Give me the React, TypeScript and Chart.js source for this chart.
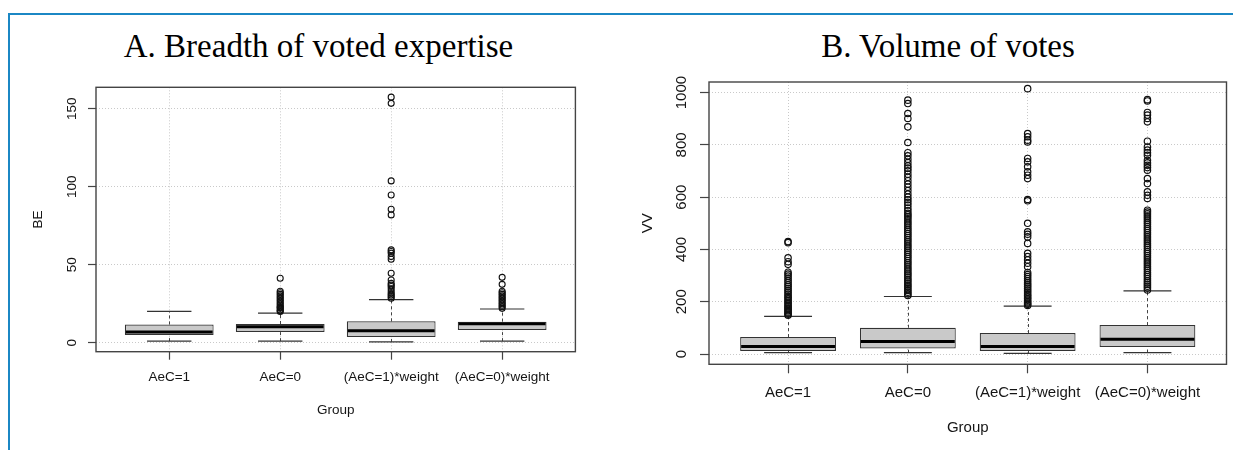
import React, { useEffect, useRef } from 'react';
import { Chart, registerables } from 'chart.js';

Chart.register(...registerables);

// ---------- data ----------
const GROUPS = ['AeC=1', 'AeC=0', '(AeC=1)*weight', '(AeC=0)*weight'];

const BE_TICKS = [0, 50, 100, 150];
const BE_LOW = [1, 1, 0.5, 1];
const BE_Q1 = [4.9, 6.9, 3.6, 8.1];
const BE_MEDIAN = [6.8, 10.2, 7.7, 12.2];
const BE_Q3 = [11.7, 12.0, 13.7, 13.5];
const BE_HIGH = [20.1, 19.0, 27.6, 21.6];
const BE_OUT_G1: number[] = [];
const BE_OUT_G2 = [20, 20.5, 21, 22, 22.5, 23, 24, 25, 26, 27, 28, 29, 30, 31, 32, 33, 41.3];
const BE_OUT_G3 = [28.5, 29.5, 30.5, 31.5, 33, 34.5, 36, 37, 38, 40.2, 44.5, 53.5, 55.2, 57.3, 58.5, 59.5, 81.9, 85.5, 94.7, 103.7, 153.4, 157.4];
const BE_OUT_G4 = [22, 23, 24, 25, 26, 27, 28, 29, 30, 31, 32, 33, 37.4, 41.9];

const VV_TICKS = [0, 200, 400, 600, 800, 1000];
const VV_LOW = [5, 5, 2.4, 5];
const VV_Q1 = [11.5, 21.5, 11.3, 26.6];
const VV_MEDIAN = [29, 48.2, 29, 56.1];
const VV_Q3 = [64.8, 100.5, 80.2, 110.6];
const VV_HIGH = [143.7, 220, 183, 241.6];
const VV_OUT_G1 = [148, 152, 157, 161, 166, 171, 176, 181, 186, 192, 198, 204, 210, 216, 222, 229, 236, 243, 250, 258, 265, 273, 281, 290, 298, 306, 313, 343, 353, 368, 426, 430];
const VV_OUT_G2 = [224, 230, 236, 243, 250, 257, 264, 271, 279, 286, 294, 302, 309, 317, 325, 333, 341, 349, 357, 365, 373, 381, 389, 397, 405, 413, 421, 429, 437, 445, 453, 461, 469, 477, 485, 493, 501, 509, 517, 525, 532, 538, 548, 558, 570, 580, 590, 600, 612, 625, 638, 650, 663, 676, 688, 701, 711, 720, 732, 745, 758, 770, 809, 869, 901, 920, 958, 971];
const VV_OUT_G3 = [186, 190, 195, 200, 206, 212, 218, 224, 230, 237, 244, 251, 258, 265, 272, 280, 288, 296, 304, 312, 334, 347, 360, 373, 385, 423, 448, 458, 467, 500, 586, 591, 671, 684, 697, 716, 735, 748, 811, 818, 831, 843, 1015];
const VV_OUT_G4 = [245, 252, 259, 266, 273, 280, 288, 296, 304, 312, 320, 328, 336, 344, 352, 360, 368, 376, 384, 392, 400, 408, 416, 424, 432, 440, 448, 456, 464, 472, 480, 488, 496, 504, 512, 520, 528, 536, 543, 550, 595, 607, 620, 652, 671, 703, 713, 722, 731, 741, 760, 770, 780, 792, 814, 888, 901, 914, 924, 968, 973];

// ---------- styling ----------
const SANS = '"Liberation Sans", Arial, Helvetica, sans-serif';
const SERIF = '"Liberation Serif", "Times New Roman", serif';
const TEXT = '#151515';
const GRID = '#c9c9c9';
const FRAME = '#444444';
const BOX_FILL = '#c9c9c9';
const BOX_LINE = '#333333';
const CANVAS_H = 450;

type Stats = { low: number[]; q1: number[]; median: number[]; q3: number[]; high: number[]; out: number[][] };
type Spec = {
  stats: Stats; ticks: number[]; yLabel: string;
  canvasWidth: number; plotLeft: number; plotRight: number; plotTop: number; plotBottom: number;
  yMin: number; yMax: number; fontSize: number; tickLen: number;
  yTickPad: number; xTickPad: number; yTitlePad: number; xTitlePad: number; pointRadius: number; pointBorder: number;
};

function makePlugin(stats: Stats) {
  return {
    id: 'rBoxParts',
    beforeDatasetsDraw(chart: any) {
      const { ctx } = chart;
      const xs = chart.scales.x;
      const ys = chart.scales.y;
      ctx.save();
      for (let i = 0; i < stats.q1.length; i++) {
        const xc = Math.round(xs.getPixelForValue(i + 1)) + 0.5;
        const x0 = xs.getPixelForValue(i + 1 - 0.2);
        const x1 = xs.getPixelForValue(i + 1 + 0.2);
        ctx.strokeStyle = '#444';
        ctx.lineWidth = 1;
        ctx.setLineDash([3, 3]);
        ctx.beginPath();
        ctx.moveTo(xc, ys.getPixelForValue(stats.low[i]));
        ctx.lineTo(xc, ys.getPixelForValue(stats.q1[i]));
        ctx.moveTo(xc, ys.getPixelForValue(stats.q3[i]));
        ctx.lineTo(xc, ys.getPixelForValue(stats.high[i]));
        ctx.stroke();
        ctx.setLineDash([]);
        ctx.strokeStyle = '#333';
        ctx.lineWidth = 1.2;
        ctx.beginPath();
        for (const v of [stats.low[i], stats.high[i]]) {
          const py = ys.getPixelForValue(v);
          ctx.moveTo(x0, py);
          ctx.lineTo(x1, py);
        }
        ctx.stroke();
      }
      ctx.restore();
    },
    afterDatasetDraw(chart: any, args: any) {
      if (args.index !== 1) return;
      const { ctx } = chart;
      const ys = chart.scales.y;
      const meta = chart.getDatasetMeta(1);
      ctx.save();
      ctx.strokeStyle = '#000';
      ctx.lineWidth = 3;
      ctx.beginPath();
      meta.data.forEach((bar: any, i: number) => {
        const py = ys.getPixelForValue(stats.median[i]);
        ctx.moveTo(bar.x - bar.width / 2 + 1, py);
        ctx.lineTo(bar.x + bar.width / 2 - 1, py);
      });
      ctx.stroke();
      ctx.restore();
    },
    afterDraw(chart: any) {
      const { ctx, chartArea: a } = chart;
      ctx.save();
      ctx.strokeStyle = FRAME;
      ctx.lineWidth = 1.4;
      ctx.strokeRect(a.left, a.top, a.right - a.left, a.bottom - a.top);
      ctx.restore();
    },
  };
}

function buildChart(canvas: HTMLCanvasElement, spec: Spec) {
  const { stats } = spec;
  const font = { family: SANS, size: spec.fontSize };
  const outliers = stats.out.flatMap((arr, i) => arr.map((v) => ({ x: i + 1, y: v })));
  const boxes = stats.q1.map((q, i) => ({ x: i + 1, y: [q, stats.q3[i]] }));
  const gridOpts = {
    color: GRID, lineWidth: 1, drawTicks: true, tickLength: spec.tickLen,
    tickColor: FRAME, tickWidth: 1.2, offset: false,
  };
  return new Chart(canvas, {
    type: 'bar',
    data: {
      datasets: [
        {
          type: 'scatter', data: outliers, order: 1,
          pointStyle: 'circle', pointRadius: spec.pointRadius, pointHoverRadius: spec.pointRadius,
          pointBorderColor: '#111111', pointBorderWidth: spec.pointBorder, pointBackgroundColor: 'rgba(0,0,0,0)',
        } as any,
        {
          type: 'bar', data: boxes, order: 2,
          backgroundColor: BOX_FILL, borderColor: BOX_LINE, borderWidth: 1.2, borderSkipped: false,
          barPercentage: 0.8, categoryPercentage: 1,
        } as any,
      ],
    },
    options: {
      responsive: false,
      animation: false,
      events: [],
      layout: { padding: { left: 0, top: spec.plotTop, right: spec.canvasWidth - spec.plotRight, bottom: 0 } },
      plugins: { legend: { display: false }, tooltip: { enabled: false }, title: { display: false } },
      scales: {
        x: {
          type: 'linear', offset: false, min: 0.34, max: 4.66, z: 1,
          afterBuildTicks: (s: any) => { s.ticks = GROUPS.map((_, i) => ({ value: i + 1 })); },
          afterFit: (s: any) => { s.height = CANVAS_H - spec.plotBottom; },
          ticks: {
            callback: (_v: any, i: number) => GROUPS[i], font, color: TEXT,
            padding: spec.xTickPad, minRotation: 0, maxRotation: 0, autoSkip: false,
          },
          grid: gridOpts,
          border: { display: false, dash: [1, 2] },
          title: { display: true, text: 'Group', font, color: TEXT, padding: { top: 0, bottom: spec.xTitlePad } },
        },
        y: {
          type: 'linear', min: spec.yMin, max: spec.yMax, z: 1, beginAtZero: false,
          afterBuildTicks: (s: any) => { s.ticks = spec.ticks.map((v) => ({ value: v })); },
          afterFit: (s: any) => { s.width = spec.plotLeft; },
          ticks: {
            callback: (v: any) => String(v), font, color: TEXT, padding: spec.yTickPad,
            minRotation: 90, maxRotation: 90, crossAlign: 'center',
          },
          grid: gridOpts,
          border: { display: false, dash: [1, 2] },
          title: { display: true, text: spec.yLabel, font, color: TEXT, padding: { top: spec.yTitlePad, bottom: 0 } },
        },
      },
    } as any,
    plugins: [makePlugin(stats) as any],
  });
}

const SPEC_A: Spec = {
  stats: { low: BE_LOW, q1: BE_Q1, median: BE_MEDIAN, q3: BE_Q3, high: BE_HIGH, out: [BE_OUT_G1, BE_OUT_G2, BE_OUT_G3, BE_OUT_G4] },
  ticks: BE_TICKS, yLabel: 'BE',
  canvasWidth: 616, plotLeft: 96, plotRight: 575.4, plotTop: 87.3, plotBottom: 351.7,
  yMin: -5.77, yMax: 163.7, fontSize: 13.5, tickLen: 8,
  yTickPad: 4.75, xTickPad: 9.7, yTitlePad: 30.4, xTitlePad: 31.2, pointRadius: 3, pointBorder: 1.1,
};

const SPEC_B: Spec = {
  stats: { low: VV_LOW, q1: VV_Q1, median: VV_MEDIAN, q3: VV_Q3, high: VV_HIGH, out: [VV_OUT_G1, VV_OUT_G2, VV_OUT_G3, VV_OUT_G4] },
  ticks: VV_TICKS, yLabel: 'VV',
  canvasWidth: 617, plotLeft: 93, plotRight: 610.5, plotTop: 82, plotBottom: 364.3,
  yMin: -39.4, yMax: 1040.5, fontSize: 15, tickLen: 9,
  yTickPad: 1.0, xTickPad: 10.4, yTitlePad: 22.7, xTitlePad: 12.7, pointRadius: 3.2, pointBorder: 1.2,
};

function Panel({ spec, left }: { spec: Spec; left: number }) {
  const ref = useRef<HTMLCanvasElement | null>(null);
  useEffect(() => {
    if (!ref.current) return;
    const chart = buildChart(ref.current, spec);
    return () => chart.destroy();
  }, [spec]);
  return (
    <canvas
      ref={ref}
      width={spec.canvasWidth}
      height={CANVAS_H}
      style={{ position: 'absolute', left, top: 0, width: spec.canvasWidth, height: CANVAS_H }}
    />
  );
}

const titleStyle: React.CSSProperties = {
  position: 'absolute', top: 30, textAlign: 'center', fontFamily: SERIF,
  fontSize: 33, lineHeight: '33px', color: '#000', whiteSpace: 'nowrap',
};

export default function App() {
  return (
    <div style={{ position: 'fixed', left: 0, top: 0, width: 1233, height: 450, background: '#fff', overflow: 'hidden' }}>
      <div style={{ position: 'absolute', left: 7.5, top: 13, width: 1300, height: 500, borderTop: '2px solid #1b87c4', borderLeft: '2px solid #1b87c4' }} />
      <div style={{ ...titleStyle, left: 0, width: 637 }}>A. Breadth of voted expertise</div>
      <div style={{ ...titleStyle, left: 663, width: 570 }}>B. Volume of votes</div>
      <Panel spec={SPEC_A} left={0} />
      <Panel spec={SPEC_B} left={616} />
    </div>
  );
}
